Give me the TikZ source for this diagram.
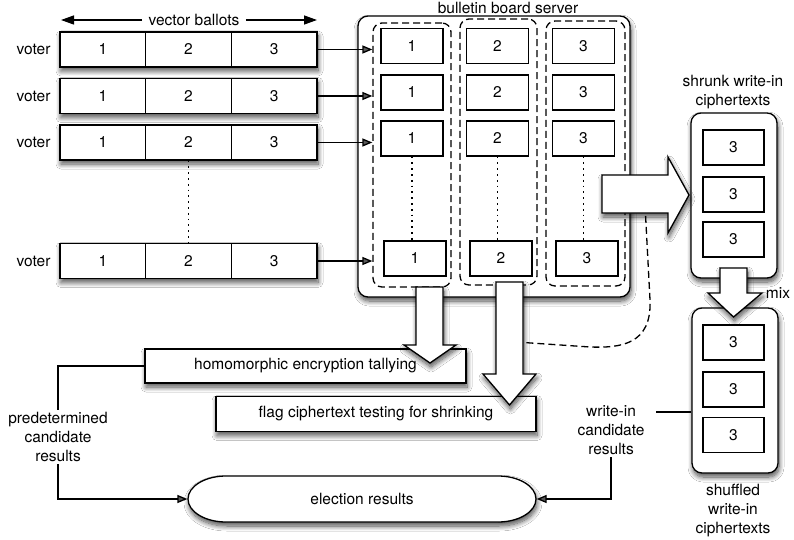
\documentclass[tikz,border=0pt]{standalone}
\usepackage{fontspec}
\setmainfont{TeX Gyre Heros}
\usetikzlibrary{arrows.meta,shadows.blur}
\begin{document}
\begin{tikzpicture}[x=1pt,y=-1pt, line width=1.3pt,
  every node/.style={font=\fontsize{15.5}{19}\selectfont, inner sep=2pt},
  sh/.style={blur shadow={shadow xshift=1pt,shadow yshift=-4pt,shadow blur radius=5pt,shadow blur steps=10,shadow opacity=70}},
  cell/.style={draw, fill=white, minimum width=85.67pt, minimum height=35pt},
  ibox/.style={draw, fill=white, minimum width=62pt, minimum height=35pt},
  col/.style={draw, dash pattern=on 7pt off 4pt, rounded corners=9pt, minimum width=78pt},
  cont/.style={draw, fill=white, rounded corners=10pt, sh},
  conn/.style={-{Triangle[length=10pt,width=8pt]}},
  dotl/.style={line width=1.5pt, dash pattern=on 1.8pt off 4pt},
  bigarrow/.style={draw, fill=white, line join=miter, sh},
]
\fill[white] (0,0) rectangle (794,540);
\useasboundingbox (0,0) rectangle (794,540);

% bulletin board
\node[cont, minimum width=272pt, minimum height=281pt] (bb) at (494,156.5) {};
\node (bbt) at (508,8) {bulletin board server};
\node[col, minimum height=264pt] (c1) at (412,155) {};
\node[col, minimum width=77pt, minimum height=266pt] (c2) at (498.5,152) {};
\node[col, minimum width=79pt, minimum height=265pt] (c3) at (585.5,153.5) {};
\foreach \c/\x/\xb/\t in {1/412/415/1, 2/497.5/501/2, 3/583.5/587/3} {
  \node[ibox] (u\c1) at (\x,46) {\t};
  \node[ibox] (u\c2) at (\x,92.5) {\t};
  \node[ibox] (u\c3) at (\x,138.5) {\t};
  \node[ibox] (u\c4) at (\xb,258.5) {\t};
  \draw[dotl] (u\c3.south) -- (u\c3.south |- u\c4.north);
}

% ballots
\coordinate (vbL) at (61,20);
\coordinate (vbR) at (317,20);
\node[inner sep=6pt] (vbt) at (194,20) {vector ballots};
\draw[-{Triangle[length=13pt,width=9pt]}] (vbt.west) -- (vbL);
\draw[-{Triangle[length=13pt,width=9pt]}] (vbt.east) -- (vbR);
\foreach \r/\y in {1/49.5, 2/96, 3/142.5, 4/261} {
  \path[sh, fill=white] (60,\y-17.5) rectangle (317,\y+17.5);
  \node[cell] (b\r1) at (102.83,\y) {1};
  \node[cell] (b\r2) at (188.5,\y) {2};
  \node[cell] (b\r3) at (274.17,\y) {3};
  \node (v\r) at (33.5,\y) {voter};
  \draw[conn] (b\r3.east) -- (b\r3.east -| c1.west);
}
\draw[dotl] (b32.south) -- (b42.north);

% write-in containers
\node[cont, minimum width=86pt, minimum height=165pt] (sk) at (734,195.5) {};
\node[align=center] (skt) at (733,92.5) {shrunk write-in\\ciphertexts};
\node[ibox, minimum width=61pt] (s1) at (733.5,147.5) {3};
\node[ibox, minimum width=61pt] (s2) at (733.5,194.5) {3};
\node[ibox, minimum width=61pt] (s3) at (733.5,239.5) {3};

\node[cont, minimum width=86pt, minimum height=165pt] (sf) at (735,390.5) {};
\node[align=center] (sft) at (733,511) {shuffled\\write-in\\ciphertexts};
\node[ibox, minimum width=61pt] (f1) at (733.5,342.5) {3};
\node[ibox, minimum width=61pt] (f2) at (733.5,389.5) {3};
\node[ibox, minimum width=61pt] (f3) at (733.5,435) {3};
\node (mix) at (778,293) {mix};

% processing boxes
\node[draw, fill=white, sh, minimum width=321pt, minimum height=34pt] (hom) at (305.5,366) {homomorphic encryption tallying};
\node[draw, fill=white, sh, minimum width=320pt, minimum height=35pt] (flag) at (376,414) {flag ciphertext testing for shrinking};

% dashed curve
\coordinate (dA) at (645,205);
\coordinate (dB) at (516,342);
\draw[dash pattern=on 7pt off 4pt] (dA) -- (650,300) .. controls (652,345) and (620,348) .. (590,347) -- (dB);

% big arrows
\draw[bigarrow] (416,287) -- (443,287) -- (443,345) -- (456,345) -- (430,363) -- (404,345) -- (416,345) -- cycle;
\draw[bigarrow] (496,282) -- (523,282) -- (523,374) -- (536,374) -- (509.5,405) -- (483,374) -- (496,374) -- cycle;
\draw[bigarrow] (602,175) -- (668,175) -- (668,157) -- (689,195) -- (668,233) -- (668,213) -- (602,213) -- cycle;
\draw[bigarrow] (720,268) -- (747,268) -- (747,293) -- (762,293) -- (733.5,317) -- (708,293) -- (720,293) -- cycle;

% election results
\draw[fill=white, sh] (226,476) -- (498,476) arc[start angle=90, end angle=-90, x radius=38pt, y radius=23pt] -- (226,522) arc[start angle=270, end angle=90, x radius=38pt, y radius=23pt] -- cycle;
\node[minimum width=348pt, minimum height=46pt] (er) at (362,499) {election results};

% side labels and connectors
\node[align=center] (pd) at (58,437) {predetermined\\candidate\\results};
\node[align=center] (wi) at (611,430) {write-in\\candidate\\results};
\draw (hom.west) -| (pd.north);
\draw[conn] (pd.south) |- (er.west);
\coordinate (wiA) at (656,412);
\draw (wiA) -- (wiA -| sf.west);
\draw[conn] (wi.south) |- (er.east);
\end{tikzpicture}
\end{document}
